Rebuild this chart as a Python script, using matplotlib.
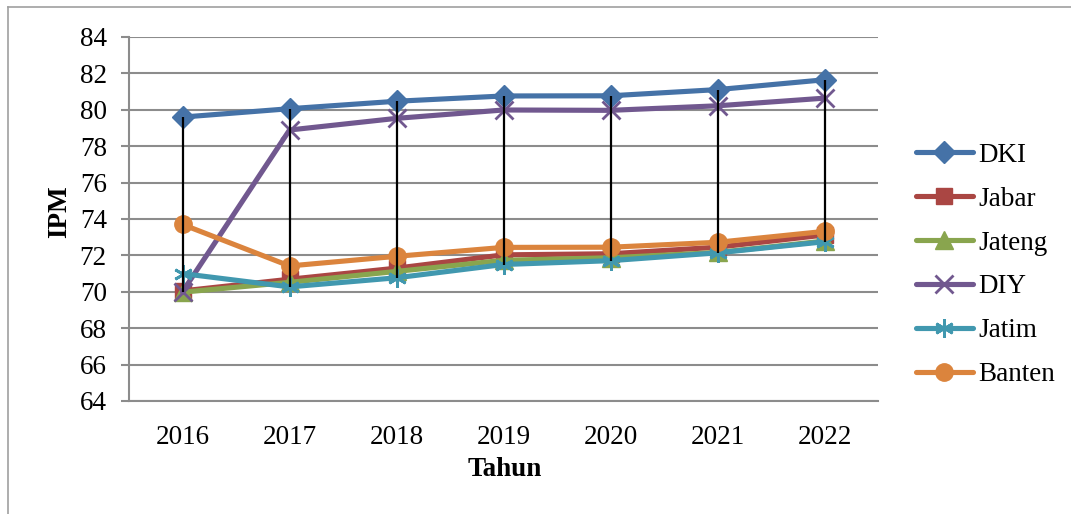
import matplotlib
matplotlib.use("Agg")
import matplotlib.pyplot as plt
from matplotlib.lines import Line2D
import numpy as np

years = ["2016", "2017", "2018", "2019", "2020", "2021", "2022"]
dki = [79.60, 80.06, 80.47, 80.76, 80.77, 81.11, 81.65]
jabar = [70.05, 70.69, 71.30, 72.03, 72.09, 72.45, 73.12]
jateng = [69.98, 70.52, 71.12, 71.73, 71.87, 72.16, 72.79]
diy = [70.00, 78.89, 79.53, 79.99, 79.97, 80.22, 80.64]
jatim = [71.00, 70.27, 70.77, 71.50, 71.71, 72.14, 72.75]
banten = [73.70, 71.42, 71.95, 72.44, 72.45, 72.72, 73.32]

series = [
    ("DKI", dki, "#4572A7", "D", 11),
    ("Jabar", jabar, "#AA4643", "s", 11.5),
    ("Jateng", jateng, "#89A54E", "^", 12.5),
    ("DIY", diy, "#71588F", "x", 12.5),
    ("Jatim", jatim, "#4198AF", (6, 2, 0), 13.5),
    ("Banten", banten, "#DB843D", "o", 12.5),
]

plt.rcParams['font.family'] = ['Liberation Serif', 'DejaVu Serif']
FS = 19.5

W, H = 1071, 514
fig = plt.figure(figsize=(W / 100, H / 100), dpi=100)
ax = fig.add_axes([129 / W, (H - 401) / H, (878 - 129) / W, (401 - 37) / H])

x = np.arange(len(years))
grid_c = "#8c8c8c"
for y in range(64, 86, 2):
    ax.axhline(y, color=grid_c, lw=1.5, zorder=0)

for name, vals, col, mk, ms in series:
    mew = 2.0 if mk in ("x",) or isinstance(mk, tuple) else 1
    ax.plot(x, vals, color=col, lw=3.7, marker=mk, ms=ms, mec=col, mfc=col,
            mew=mew, label=name, zorder=3, solid_capstyle='round')

allv = np.array([dki, jabar, jateng, diy, jatim, banten])
ax.vlines(x, allv.min(axis=0), allv.max(axis=0), color="black", lw=1.6, zorder=5)

ax.set_xlim(-0.5, len(years) - 0.5)
ax.set_ylim(64, 84)
ax.set_yticks(range(64, 86, 2))
ax.set_xticks(x)
ax.set_xticklabels(years)
for s in ("top", "right"):
    ax.spines[s].set_visible(False)
for s in ("left", "bottom"):
    ax.spines[s].set_color(grid_c)
    ax.spines[s].set_linewidth(1.5)
ax.tick_params(axis='y', length=6, width=1.5, color=grid_c, labelsize=FS, pad=10)
ax.tick_params(axis='x', length=0, labelsize=FS, pad=17)

fig.text(60 / W, 1 - 212 / H, "IPM", rotation=90, fontsize=FS, fontweight='bold',
         ha='center', va='center')
fig.text(505 / W, 1 - 470 / H, "Tahun", fontsize=FS, fontweight='bold',
         ha='center', va='center')

leg = ax.legend(loc='center left', bbox_to_anchor=(916 / W, 1 - 265 / H),
                bbox_transform=fig.transFigure, frameon=False, fontsize=FS,
                handlelength=2.1, handletextpad=0.2, labelspacing=0.7,
                borderpad=0, borderaxespad=0)

border_c = "#a0a0a0"
fig.add_artist(Line2D([8 / W, 1], [1 - 7 / H, 1 - 7 / H], color=border_c, lw=1.2))
fig.add_artist(Line2D([8 / W, 8 / W], [0, 1 - 7 / H], color=border_c, lw=1.2))

fig.savefig("out.png", dpi=100)
